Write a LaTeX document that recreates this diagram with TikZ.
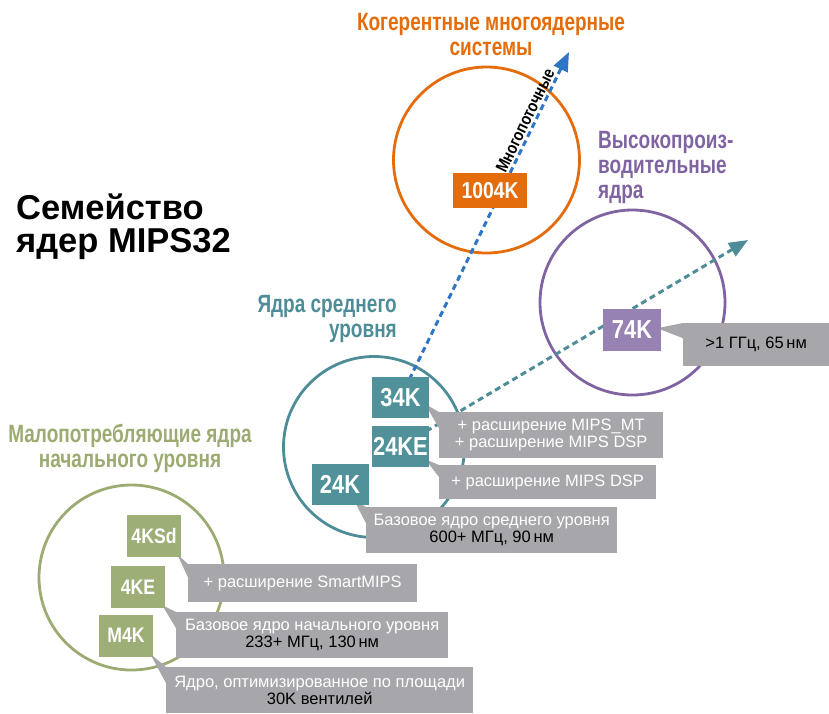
\documentclass[tikz,border=0pt]{standalone}
\usepackage{fontspec}
\setmainfont{Liberation Sans}
\newfontfamily\narrowfont[FakeStretch=0.84]{Liberation Sans}
\newfontfamily\headfont[FakeStretch=0.76]{Liberation Sans}
\usetikzlibrary{calc,arrows.meta}
\tikzset{>={Triangle[length=19pt,width=15pt]}}

\definecolor{corange}{HTML}{E46C0A}
\definecolor{cpurple}{HTML}{8064A2}
\definecolor{cpurplebox}{HTML}{9782B4}
\definecolor{cteal}{HTML}{4E8D97}
\definecolor{ctealbox}{HTML}{50919A}
\definecolor{cgreen}{HTML}{9BAB72}
\definecolor{cgreenbox}{HTML}{9DAE76}
\definecolor{cgray}{HTML}{A7A7AB}
\definecolor{cblue}{HTML}{2E75C5}

\pgfdeclarelayer{back}
\pgfdeclarelayer{mid}
\pgfsetlayers{back,mid,main}

\begin{document}
\begin{tikzpicture}[x=1pt,y=-1pt,
  core/.style={fill=#1,text=white,inner sep=0,minimum width=57,minimum height=41,
    font=\narrowfont\bfseries\fontsize{26}{26}\selectfont},
  note/.style={fill=cgray,text=black,inner sep=0,anchor=north west,align=center,
    font=\fontsize{16.5}{17}\selectfont},
  head/.style={text=#1,inner sep=0,align=center,
    font=\headfont\bfseries\fontsize{25}{25}\selectfont},
  ring/.style={draw=#1,circle,line width=2.8,inner sep=0},
  flow/.style={draw=#1,line width=3,dash pattern=on 6 off 4,->}]
\useasboundingbox (0,0) rectangle (829,713);

% cores
\node[core=corange,minimum width=74,minimum height=35,
  font=\narrowfont\bfseries\fontsize{23}{23}\selectfont] (b1004) at (490,190.5) {1004K};
\node[core=cpurplebox,minimum width=58,minimum height=42] (b74) at (632,330) {74K};
\foreach \n/\x/\y/\t in {b34/400.5/397.5/34K,b24e/400.5/446.5/24KE,b24/340/484/24K}
  \node[core=ctealbox] (\n) at (\x,\y) {\t};
\foreach \n/\x/\y/\t in {b4ksd/154/536/4KSd,b4ke/138/587/4KE,bm4k/126/635.5/M4K}
  \node[core=cgreenbox,minimum width=54,minimum height=42,
    font=\narrowfont\bfseries\fontsize{21}{21}\selectfont] (\n) at (\x,\y) {\t};

% callouts
\begin{pgfonlayer}{mid}
\foreach \n/\b/\dx/\dy/\x/\y/\w/\h/\t in {
  n74/b74/-4/-23/683/323/146/43/{>1 ГГц, 65\,нм},
  n34/b34/-4/-14/439/412/224/46/{\color{white}+ расширение MIPS\_MT\\\color{white}+ расширение MIPS DSP},
  n24e/b24e/-4/-8/439/465/217/34/{\color{white}+ расширение MIPS DSP},
  n24/b24/-15/-5/366/507/251/46/{\color{white}Базовое ядро среднего уровня\\600+ МГц, 90\,нм},
  n4ksd/b4ksd/-4/-3/188/564/229/38/{\color{white}+ расширение SmartMIPS},
  n4ke/b4ke/-3/-3/176/612/272/46/{\color{white}Базовое ядро начального уровня\\233+ МГц, 130\,нм},
  nm4k/bm4k/-3/-3/166/667/307/46/{\color{white}Ядро, оптимизированное по площади\\30K вентилей}}
{
  \node[note,minimum width=\w,minimum height=\h] (\n) at (\x,\y) {\t};
  \fill[cgray] ($(\b.south east)+(\dx,\dy)$) -- (\n.north west)
    -- ($(\n.north west)!.35!(\n.south west)$) -- cycle;
}
\end{pgfonlayer}

% groups and directions
\begin{pgfonlayer}{back}
\node[ring=corange,minimum size=186] (gmc) at (486.5,160) {};
\node[ring=cpurple,minimum size=185] (ghp) at (632.5,302.5) {};
\node[ring=cteal,minimum size=181] (gmid) at (374,447) {};
\node[ring=cgreen,minimum size=185] (glow) at (131.5,577.5) {};
\coordinate (tipmt) at (569,52);
\coordinate (tiphp) at (748,240);
\draw[flow=cblue] (b34.center) -- node[pos=.79,sloped,above,inner sep=2,text=black,
  font=\narrowfont\bfseries\fontsize{17}{17}\selectfont] (lmt) {Многопоточные} (tipmt);
\draw[flow=cteal] (b24e.center) -- (tiphp);
\end{pgfonlayer}

% labels (base = last line)
\node[anchor=base west,align=left,inner sep=0,font=\bfseries\fontsize{34.5}{33}\selectfont]
  (title) at (16,252) {Семейство\\ядер MIPS32};
\node[head=corange,anchor=base] (hmc) at (491,55) {Когерентные многоядерные\\системы};
\node[head=cpurple,anchor=base west,align=left] (hhp) at (598,198)
  {Высокопроиз-\\водительные\\ядра};
\node[head=cteal,anchor=base east,align=right] (hmid) at (397,337) {Ядра среднего\\уровня};
\node[head=cgreen,anchor=base] (hlow) at (130,467) {Малопотребляющие ядра\\начального уровня};
\end{tikzpicture}
\end{document}
